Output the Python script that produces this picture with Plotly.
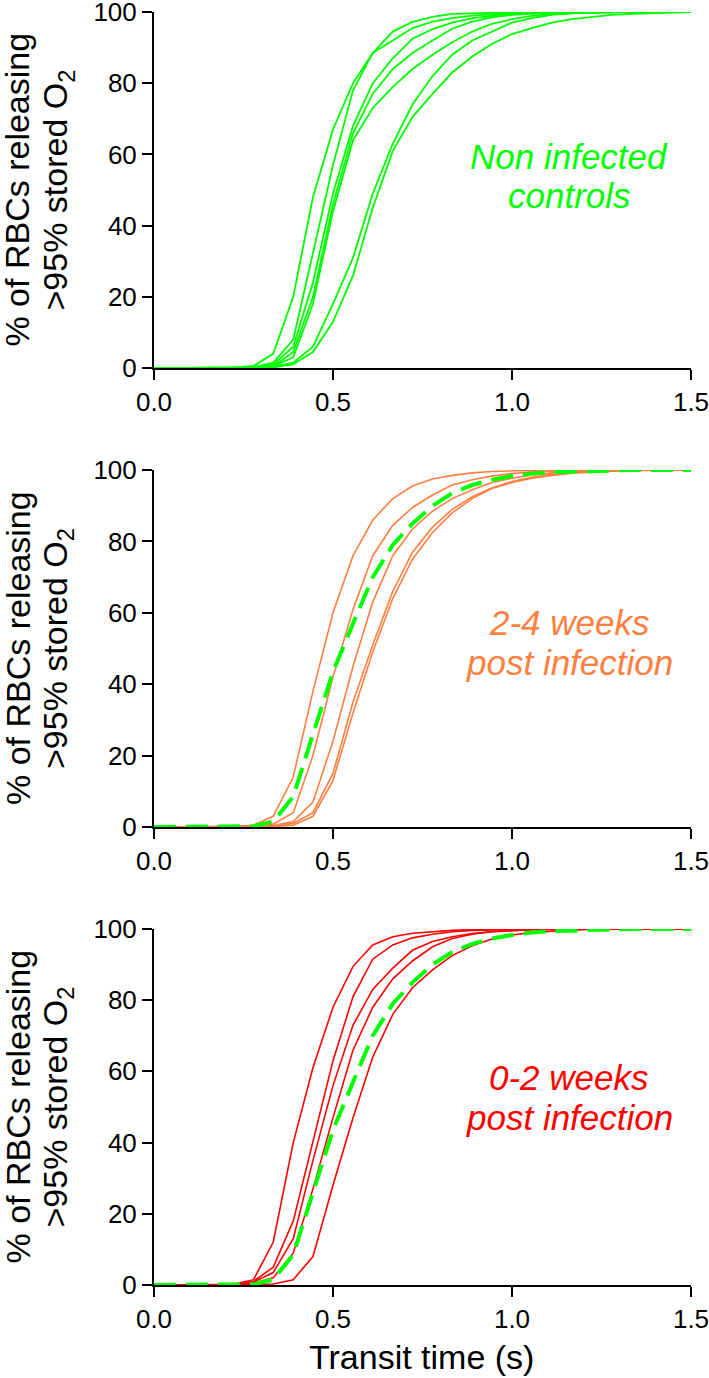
import plotly.graph_objects as go

# Transit time grid (s)
transit_time = [0.0, 0.056, 0.111, 0.167, 0.222, 0.278, 0.333, 0.389, 0.444, 0.5,
                0.556, 0.611, 0.667, 0.722, 0.778, 0.833, 0.889, 0.944, 1.0, 1.056,
                1.111, 1.167, 1.222, 1.278, 1.333, 1.389, 1.444, 1.5]

# Non infected controls (green)
ctrl_1 = [0,0,0,0,0.1,0.6,4,20,48,67,80,88.5,94.5,97.2,98.6,99.5,99.7,99.8,99.9,100,100,100,100,100,100,100,100,100]
ctrl_2 = [0,0,0,0,0,0.3,1.5,8,32,57,78,88.5,92,95.5,97.3,98.3,99,99.4,99.7,99.8,99.9,100,100,100,100,100,100,100]
ctrl_3 = [0,0,0,0,0,0.2,1,6,24,49,68,80,87,92.5,95.2,97,98.3,99,99.5,99.7,99.9,100,100,100,100,100,100,100]
ctrl_4 = [0,0,0,0,0,0.2,0.5,4.5,20,46,66,77,84,88.5,92,95.3,97.3,98.5,99.2,99.6,99.8,99.9,100,100,100,100,100,100]
ctrl_5 = [0,0,0,0,0,0.1,0.5,3,18,44,64,73,79,84,88,91.5,94.5,96.7,98,98.9,99.4,99.7,99.9,100,100,100,100,100]
ctrl_6 = [0,0,0,0,0,0,0.3,1.5,6,18,31,49,63,74,82,88,92,94.5,97,98.3,99.2,99.6,99.8,100,100,100,100,100]
ctrl_7 = [0,0,0,0,0,0,0.2,1,4.5,13,26,45,61,70.5,77,83,87.5,91,93.8,95.5,97,98,98.7,99.2,99.5,99.7,99.9,100]

# Mean of controls (green dashed reference)
ctrl_mean = [0,0,0,0,0,0.2,1.5,8.5,26,43.5,57,70,79,85,90,93.5,95.8,97.3,98.3,99,99.4,99.6,99.8,99.9,100,100,100,100]

# 2-4 weeks post infection (orange)
wk24_1 = [0,0,0,0,0.1,0.5,3,14,38,60,76,86,92,95.5,97.5,98.5,99.2,99.6,99.8,99.9,100,100,100,100,100,100,100,100]
wk24_2 = [0,0,0,0,0,0.2,0.8,4,20,42,61,76,84.5,89.5,93,95.8,97.3,98.3,99,99.5,99.7,99.9,100,100,100,100,100,100]
wk24_3 = [0,0,0,0,0,0.1,0.4,1.5,7,24,45,63,76,83.5,88.5,92,94.5,96.5,97.7,98.6,99.2,99.6,99.8,99.9,100,100,100,100]
wk24_4 = [0,0,0,0,0,0,0.2,1,4,15,35,51,66,77,84,89,92.5,95,96.8,98,98.8,99.3,99.6,99.8,99.9,100,100,100]
wk24_5 = [0,0,0,0,0,0,0.1,0.5,3,13,32,49,64,75,82.5,88,92,94.8,96.5,97.7,98.5,99.1,99.5,99.7,99.9,100,100,100]

# 0-2 weeks post infection (red)
wk02_1 = [0,0,0,0,0.2,1.5,12,40,61,78,89.5,95.5,97.8,98.8,99.3,99.6,99.8,99.9,100,100,100,100,100,100,100,100,100,100]
wk02_2 = [0,0,0,0,0.1,1,5,18,40,63,81,91.5,95.5,97.5,98.5,99.2,99.6,99.8,99.9,100,100,100,100,100,100,100,100,100]
wk02_3 = [0,0,0,0,0.1,0.8,3.5,13,35,56,73,83,89,94,96.5,97.8,98.7,99.3,99.6,99.8,99.9,100,100,100,100,100,100,100]
wk02_4 = [0,0,0,0,0,0.5,2,9,27,47,66,78,86,91,95,97.3,98.5,99.2,99.6,99.8,99.9,100,100,100,100,100,100,100]
wk02_5 = [0,0,0,0,0,0.1,0.3,1.5,8,28,47,64,76,83.5,88.5,92.5,95.3,97.2,98.3,99,99.4,99.7,99.9,100,100,100,100,100]

x_ticks = [0.0, 0.5, 1.0, 1.5]
y_ticks = [0, 20, 40, 60, 80, 100]

y_title_1 = "% of RBCs releasing"
y_title_2 = ">95% stored O<sub>2</sub>"
x_title = "Transit time (s)"

GREEN = "#00FF00"
ORANGE = "#FF7F40"
RED = "#FF0000"
FONT = "Liberation Sans, Arial, sans-serif"

panels = [
    ([ctrl_1, ctrl_2, ctrl_3, ctrl_4, ctrl_5, ctrl_6, ctrl_7], GREEN, False,
     ["Non infected", "controls"], [156, 195]),
    ([wk24_1, wk24_2, wk24_3, wk24_4, wk24_5], ORANGE, True,
     ["2-4 weeks", "post infection"], [622, 662]),
    ([wk02_1, wk02_2, wk02_3, wk02_4, wk02_5], RED, True,
     ["0-2 weeks", "post infection"], [1077, 1117]),
]

W, H = 709, 1378
ML, MR, MT, MB = 153.5, 18.4, 12, 93
PW = W - ML - MR
PH = H - MT - MB
domains = [[0.7203, 1.0], [0.3598, 0.6402], [0.0, 0.2797]]


def px_x(px):
    return (px - ML) / PW


def px_y(py):
    return (H - MB - py) / PH


fig = go.Figure()
for i, (series, color, show_mean, labels, label_py) in enumerate(panels, start=1):
    xa = "x" if i == 1 else f"x{i}"
    ya = "y" if i == 1 else f"y{i}"
    width = 1.8 if color == GREEN else 1.6
    for s in series:
        fig.add_trace(go.Scatter(x=transit_time, y=s, mode="lines",
                                 line=dict(color=color, width=width),
                                 xaxis=xa, yaxis=ya, showlegend=False,
                                 hoverinfo="skip"))
    if show_mean:
        fig.add_trace(go.Scatter(x=transit_time, y=ctrl_mean, mode="lines",
                                 line=dict(color=GREEN, width=4, dash="22px,10px"),
                                 xaxis=xa, yaxis=ya, showlegend=False,
                                 hoverinfo="skip"))
    for lab, py in zip(labels, label_py):
        fig.add_annotation(x=px_x(569), y=px_y(py), xref="paper", yref="paper",
                           text=f"<i>{lab}</i>", showarrow=False,
                           font=dict(family=FONT, size=35, color=color),
                           xanchor="center", yanchor="middle", align="center")
    # rotated y-axis title (two lines)
    d0, d1 = domains[i - 1]
    ymid = (d0 + d1) / 2
    for txt, px in ((y_title_1, 17), (y_title_2, 57)):
        fig.add_annotation(x=px_x(px), y=ymid, xref="paper", yref="paper",
                           text=txt, textangle=-90, showarrow=False,
                           font=dict(family=FONT, size=34, color="black"),
                           xanchor="center", yanchor="middle", borderpad=0)

fig.add_annotation(x=px_x(421), y=px_y(1357), xref="paper", yref="paper",
                   text=x_title, showarrow=False,
                   font=dict(family=FONT, size=34, color="black"),
                   xanchor="center", yanchor="middle")

axis_common = dict(showline=True, linecolor="black", linewidth=2,
                   ticks="outside", ticklen=10, tickwidth=2, tickcolor="black",
                   showgrid=False, zeroline=False, automargin=False,
                   ticklabeloverflow="allow",
                   tickfont=dict(family=FONT, size=26, color="black"))

layout = dict(width=W, height=H,
              margin=dict(l=ML, r=MR, t=MT, b=MB, autoexpand=False),
              plot_bgcolor="white", paper_bgcolor="white",
              font=dict(family=FONT, color="black"))

for i in range(1, 4):
    xk = "xaxis" if i == 1 else f"xaxis{i}"
    yk = "yaxis" if i == 1 else f"yaxis{i}"
    ya = "y" if i == 1 else f"y{i}"
    xa = "x" if i == 1 else f"x{i}"
    layout[xk] = dict(axis_common, domain=[0, 1], anchor=ya, range=[0, 1.5],
                      tickvals=x_ticks, tickformat=".1f")
    layout[yk] = dict(axis_common, domain=domains[i - 1], anchor=xa,
                      range=[0, 100], tickvals=y_ticks)

fig.update_layout(**layout)
# remove the browser's default 8px body margin so the figure fills the window
fig.write_html("out.html", config={"displayModeBar": False},
               post_script="document.body.style.margin='0px';")
